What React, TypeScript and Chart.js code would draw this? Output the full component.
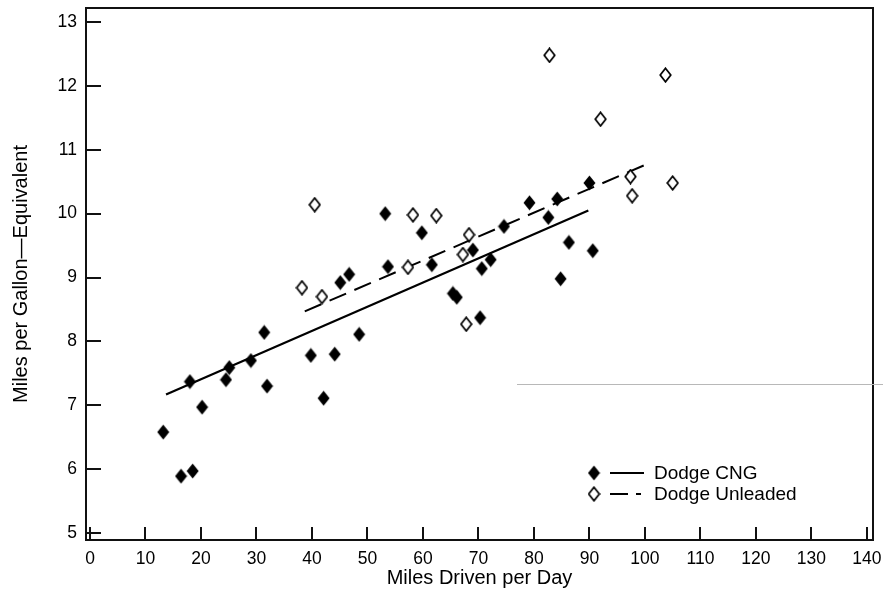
import React, { useEffect, useRef } from "react";
import { Chart, registerables } from "chart.js";

Chart.register(...registerables);

// ---- data ----
const xTickValues = [0, 10, 20, 30, 40, 50, 60, 70, 80, 90, 100, 110, 120, 130, 140];
const yTickValues = [5, 6, 7, 8, 9, 10, 11, 12, 13];

const seriesLabels = ["Dodge CNG", "Dodge Unleaded"];

const cngMiles = [13.2, 16.4, 18.5, 18.0, 20.2, 24.5, 25.1, 29.0, 31.4, 31.9, 39.8, 42.1, 44.1, 48.5, 45.1, 46.7, 53.2, 53.7, 59.8, 61.6, 65.4, 66.1, 69.0, 70.3, 70.6, 72.2, 74.6, 79.2, 82.6, 84.2, 84.8, 86.3, 90.0, 90.6];
const cngMpg = [6.58, 5.89, 5.97, 7.37, 6.97, 7.40, 7.59, 7.70, 8.14, 7.30, 7.78, 7.11, 7.80, 8.11, 8.92, 9.05, 10.0, 9.17, 9.70, 9.20, 8.75, 8.69, 9.43, 8.37, 9.14, 9.28, 9.80, 10.17, 9.94, 10.23, 8.98, 9.55, 10.48, 9.42];

const unlMiles = [38.2, 40.5, 41.8, 57.3, 58.2, 62.4, 67.2, 67.8, 68.3, 82.8, 92.0, 97.4, 97.7, 103.7, 105.0];
const unlMpg = [8.84, 10.14, 8.70, 9.16, 9.98, 9.97, 9.36, 8.27, 9.67, 12.48, 11.48, 10.58, 10.28, 12.17, 10.48];

const cngFitMiles = [13.7, 89.8];
const cngFitMpg = [7.17, 10.05];
const unlFitMiles = [38.7, 101.0];
const unlFitMpg = [8.47, 10.8];

const xTitle = "Miles Driven per Day";
const yTitle = "Miles per Gallon\u2014Equivalent";

// ---- styles ----
const FONT = "'Liberation Sans', Arial, Helvetica, sans-serif";
const INK = "#000";

function makeDiamond(filled: boolean): HTMLCanvasElement {
  const w = 13;
  const h = 16;
  const c = document.createElement("canvas");
  c.width = w;
  c.height = h;
  const g = c.getContext("2d")!;
  const inset = filled ? 0.5 : 1.2;
  g.beginPath();
  g.moveTo(w / 2, inset);
  g.lineTo(w - inset, h / 2);
  g.lineTo(w / 2, h - inset);
  g.lineTo(inset, h / 2);
  g.closePath();
  if (filled) {
    g.fillStyle = "#000";
    g.fill();
  } else {
    g.fillStyle = "#fff";
    g.fill();
    g.lineWidth = 1.7;
    g.strokeStyle = "#000";
    g.stroke();
  }
  return c;
}

const toPoints = (xs: number[], ys: number[]) => xs.map((x, i) => ({ x, y: ys[i] }));

const zeroPadding = (s: any) => {
  s.paddingTop = 0;
  s.paddingBottom = 0;
  s.paddingLeft = 0;
  s.paddingRight = 0;
};

export default function App() {
  const ref = useRef<HTMLCanvasElement | null>(null);

  useEffect(() => {
    if (!ref.current) return;
    const filled = makeDiamond(true);
    const open = makeDiamond(false);

    const decor = {
      id: "decor",
      afterDraw(chart: any) {
        const { ctx, chartArea: a, scales } = chart;
        ctx.save();
        // frame (top, right)
        ctx.strokeStyle = "#111";
        ctx.lineWidth = 2;
        ctx.beginPath();
        ctx.moveTo(a.left - 1, a.top);
        ctx.lineTo(a.right, a.top);
        ctx.lineTo(a.right, a.bottom);
        ctx.stroke();
        // inward ticks
        ctx.beginPath();
        for (const v of xTickValues) {
          const px = Math.round(scales.x.getPixelForValue(v));
          ctx.moveTo(px, a.bottom);
          ctx.lineTo(px, a.bottom - 13);
        }
        for (const v of yTickValues) {
          const py = Math.round(scales.y.getPixelForValue(v));
          ctx.moveTo(a.left, py);
          ctx.lineTo(a.left + 15, py);
        }
        ctx.stroke();

        // faint scan line
        ctx.strokeStyle = "#b8b8b8";
        ctx.lineWidth = 1;
        ctx.beginPath();
        ctx.moveTo(a.left + 431, 384.5);
        ctx.lineTo(chart.width, 384.5);
        ctx.stroke();

        // legend
        const lx = a.right - 279;
        const ly1 = a.bottom - 67;
        const ly2 = ly1 + 21;
        ctx.drawImage(filled, lx - filled.width / 2, ly1 - filled.height / 2);
        ctx.drawImage(open, lx - open.width / 2, ly2 - open.height / 2);
        ctx.strokeStyle = "#000";
        ctx.lineWidth = 2.2;
        ctx.beginPath();
        ctx.moveTo(lx + 16, ly1);
        ctx.lineTo(lx + 50, ly1);
        ctx.stroke();
        ctx.lineWidth = 2;
        ctx.beginPath();
        ctx.moveTo(lx + 16, ly2);
        ctx.lineTo(lx + 34, ly2);
        ctx.moveTo(lx + 42, ly2);
        ctx.lineTo(lx + 47, ly2);
        ctx.stroke();
        ctx.fillStyle = INK;
        ctx.font = `19px ${FONT}`;
        ctx.textBaseline = "middle";
        ctx.textAlign = "left";
        ctx.fillText(seriesLabels[0], lx + 60, ly1 + 1);
        ctx.fillText(seriesLabels[1], lx + 60, ly2 + 1);
        ctx.restore();
      },
    };

    const chart = new Chart(ref.current, {
      type: "scatter",
      data: {
        datasets: [
          {
            label: seriesLabels[0],
            data: toPoints(cngMiles, cngMpg),
            pointStyle: filled as any,
            pointRadius: 7,
            showLine: false,
            order: 1,
          },
          {
            label: seriesLabels[1],
            data: toPoints(unlMiles, unlMpg),
            pointStyle: open as any,
            pointRadius: 7,
            showLine: false,
            order: 2,
          },
          {
            label: seriesLabels[0] + " fit",
            data: toPoints(cngFitMiles, cngFitMpg),
            showLine: true,
            pointRadius: 0,
            borderColor: "#000",
            borderWidth: 2.2,
            order: 3,
          },
          {
            label: seriesLabels[1] + " fit",
            data: toPoints(unlFitMiles, unlFitMpg),
            showLine: true,
            pointRadius: 0,
            borderColor: "#000",
            borderWidth: 2,
            borderDash: [18, 9],
            order: 4,
          },
        ],
      },
      options: {
        animation: false,
        responsive: true,
        maintainAspectRatio: false,
        layout: { padding: { top: 7, right: 10, left: 0, bottom: 0 } },
        plugins: {
          legend: { display: false },
          tooltip: { enabled: false },
        },
        scales: {
          x: {
            type: "linear",
            position: "bottom",
            min: -0.72,
            max: 141.1,
            afterBuildTicks: (s: any) => {
              s.ticks = xTickValues.map((value) => ({ value }));
            },
            afterFit: (s: any) => {
              s.height = 54;
              zeroPadding(s);
            },
            grid: { display: false, drawTicks: false },
            border: { display: true, color: "#111", width: 2 },
            ticks: {
              padding: 9,
              color: INK,
              font: { family: FONT, size: 17.5 },
              maxRotation: 0,
              autoSkip: false,
            },
            title: {
              display: true,
              text: xTitle,
              color: INK,
              font: { family: FONT, size: 20 },
              padding: { top: 0, bottom: 3.5 },
            },
          },
          y: {
            type: "linear",
            min: 4.89,
            max: 13.22,
            afterBuildTicks: (s: any) => {
              s.ticks = yTickValues.map((value) => ({ value }));
            },
            afterFit: (s: any) => {
              s.width = 86;
              zeroPadding(s);
            },
            grid: { display: false, drawTicks: false },
            border: { display: true, color: "#111", width: 2 },
            ticks: {
              padding: 9,
              color: INK,
              font: { family: FONT, size: 17.5 },
              autoSkip: false,
            },
            title: {
              display: true,
              text: yTitle,
              color: INK,
              font: { family: FONT, size: 20 },
              padding: { top: 9, bottom: 0 },
            },
          },
        },
      },
      plugins: [decor],
    });

    return () => chart.destroy();
  }, []);

  return (
    <div style={{ position: "fixed", left: 0, top: 0, width: 883, height: 594, background: "#fff" }}>
      <canvas ref={ref} />
    </div>
  );
}
